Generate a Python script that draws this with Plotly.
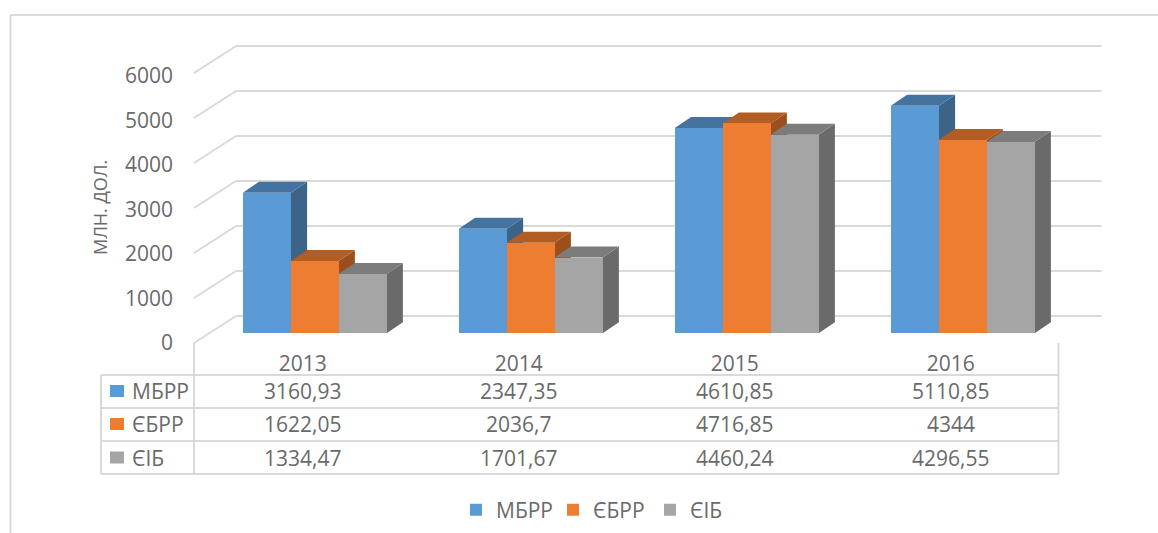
import plotly.graph_objects as go

# ---------- data ----------
years = ["2013", "2014", "2015", "2016"]
series_names = ["МБРР", "ЄБРР", "ЄІБ"]
mbrr = [3160.93, 2347.35, 4610.85, 5110.85]
ebrr = [1622.05, 2036.7, 4716.85, 4344]
eib = [1334.47, 1701.67, 4460.24, 4296.55]
mbrr_text = ["3160,93", "2347,35", "4610,85", "5110,85"]
ebrr_text = ["1622,05", "2036,7", "4716,85", "4344"]
eib_text = ["1334,47", "1701,67", "4460,24", "4296,55"]
y_ticks = [0, 1000, 2000, 3000, 4000, 5000, 6000]
axis_title = "МЛН. ДОЛ."

# ---------- style ----------
W, H = 1158, 533
FONT = "Open Sans"
FS = 21
TXT = "#6a6a6a"
LINE = "#d9d9d9"
front = ["#5B9BD5", "#ED7D31", "#A5A5A5"]
top = ["#44739F", "#B25D23", "#7C7C7C"]
side = ["#3B6488", "#9A4F1C", "#6A6A6A"]
all_values = [mbrr, ebrr, eib]
all_text = [mbrr_text, ebrr_text, eib_text]

# axis calibration
PX_PER_UNIT = 0.0445      # px per value unit
Y0_PX = 342.7             # px of value 0 on the axis
COL0_PX = 302.7           # px of first category centre
COL_PX = 216.0            # px per category
y_range = [(Y0_PX - H) / PX_PER_UNIT, Y0_PX / PX_PER_UNIT]
x_range = [(0 - COL0_PX) / COL_PX, (W - COL0_PX) / COL_PX]

BAR_BASE = (Y0_PX - 333.3) / PX_PER_UNIT
BAR_W = 48 / COL_PX
BAR_OFF = [-35.9 / COL_PX, 11.9 / COL_PX, 59.9 / COL_PX]
DX = 16.3 / COL_PX
DY = 11 / PX_PER_UNIT

fig = go.Figure()

# side and top faces of the bars (drawn below the front faces)
for s in range(3):
    for i, v in enumerate(all_values[s]):
        xl = i + BAR_OFF[s] - BAR_W / 2
        xr = i + BAR_OFF[s] + BAR_W / 2
        yb = BAR_BASE
        yt = BAR_BASE + v
        fig.add_trace(go.Scatter(
            x=[xr, xr + DX, xr + DX, xr, xr], y=[yb, yb + DY, yt + DY, yt, yb],
            mode="lines", fill="toself", fillcolor=side[s], line=dict(width=0),
            showlegend=False, hoverinfo="skip", xaxis="x", yaxis="y"))
        fig.add_trace(go.Scatter(
            x=[xl, xl + DX, xr + DX, xr, xl], y=[yt, yt + DY, yt + DY, yt, yt],
            mode="lines", fill="toself", fillcolor=top[s], line=dict(width=0),
            showlegend=False, hoverinfo="skip", xaxis="x", yaxis="y"))

# front faces
for s in range(3):
    fig.add_trace(go.Bar(
        x=[i + BAR_OFF[s] for i in range(4)], y=all_values[s],
        base=[BAR_BASE] * 4, width=BAR_W, name=series_names[s],
        marker=dict(color=front[s], line=dict(width=0)),
        xaxis="x", yaxis="y2"))

def px_x(p):
    return p / W

def px_y(p):
    return 1 - p / H

shapes = []

def seg(x0, y0, x1, y1, w=2):
    shapes.append(dict(type="line", xref="paper", yref="paper", layer="below",
                       x0=px_x(x0), y0=px_y(y0), x1=px_x(x1), y1=px_y(y1),
                       line=dict(color=LINE, width=w)))

# chart border
seg(10.5, 15, W, 15)
seg(10.5, 15, 10.5, H)

# walls and grid
for k in range(len(y_ticks)):
    seg(236, 316 - 45 * k, 1101.5, 316 - 45 * k)
    seg(194, 343 - 45 * k, 236, 316 - 45 * k)

# data table
for yy in [375, 408, 441, 474]:
    seg(101, yy, 1058.5, yy)
seg(101, 375, 101, 474)
seg(194, 343, 194, 474)
seg(1058.5, 343, 1058.5, 474)

annotations = []
row_y = [391, 424, 457.5]
for s in range(3):
    shapes.append(dict(type="rect", xref="paper", yref="paper", layer="above",
                       x0=px_x(110), x1=px_x(124),
                       y0=px_y(row_y[s] - 6), y1=px_y(row_y[s] + 6),
                       fillcolor=front[s], line=dict(width=0)))
    annotations.append(dict(xref="paper", yref="paper", x=px_x(130), y=px_y(row_y[s]),
                            text=series_names[s], showarrow=False, xanchor="left",
                            yanchor="middle", font=dict(family=FONT, size=FS, color=TXT)))
    for i in range(4):
        annotations.append(dict(xref="x", yref="paper", x=i, y=px_y(row_y[s]),
                                text=all_text[s][i], showarrow=False, xanchor="center",
                                yanchor="middle", font=dict(family=FONT, size=FS, color=TXT)))

annotations.append(dict(xref="paper", yref="paper", x=px_x(100), y=px_y(208),
                        text=axis_title, textangle=-90, showarrow=False,
                        xanchor="center", yanchor="middle",
                        font=dict(family=FONT, size=18, color=TXT)))

fig.update_layout(
    width=W, height=H,
    margin=dict(l=0, r=0, t=0, b=0),
    paper_bgcolor="white", plot_bgcolor="white",
    barmode="overlay", bargap=0,
    xaxis=dict(range=x_range, domain=[0, 1], tickmode="array", tickvals=list(range(4)),
               ticktext=years, showgrid=False, zeroline=False, showline=False, ticks="",
               anchor="free", position=px_y(348.7),
               tickfont=dict(family=FONT, size=FS, color=TXT), fixedrange=True),
    yaxis=dict(range=y_range, domain=[0, 1], tickmode="array", tickvals=y_ticks,
               showgrid=False, zeroline=False, showline=False, ticks="",
               anchor="free", position=px_x(173),
               tickfont=dict(family=FONT, size=FS, color=TXT), fixedrange=True),
    yaxis2=dict(range=y_range, domain=[0, 1], overlaying="y", visible=False, fixedrange=True),
    legend=dict(orientation="h", x=px_x(456), y=px_y(510), xanchor="left", yanchor="middle",
                entrywidth=52, entrywidthmode="pixels",
                font=dict(family=FONT, size=FS, color=TXT), bgcolor="rgba(0,0,0,0)",
                traceorder="normal", itemclick=False, itemdoubleclick=False),
    shapes=shapes, annotations=annotations, showlegend=True,
)

fig.write_html("out.html", config={"displayModeBar": False},
               post_script="document.body.style.margin='0';document.body.style.overflow='hidden';")
